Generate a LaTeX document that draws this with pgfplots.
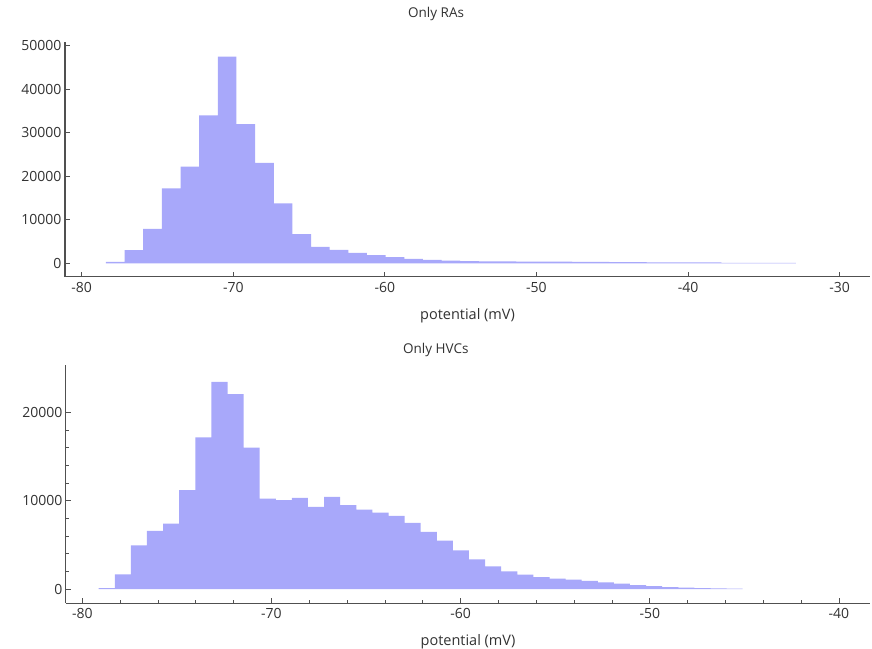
\documentclass[border=0pt]{standalone}
\usepackage{pgfplots}
\pgfplotsset{compat=1.18}
\usepackage{fontspec}
\setmainfont{Open Sans}
\definecolor{histfill}{RGB}{168,168,250}
\definecolor{axisgray}{RGB}{80,80,80}
\definecolor{textgray}{RGB}{50,50,50}

\pgfplotstableread{
x y
-78.40 300
-77.17 3000
-75.94 7900
-74.71 17200
-73.48 22200
-72.25 34000
-71.02 47500
-69.79 32000
-68.56 23100
-67.33 13800
-66.10 6700
-64.87 3800
-63.64 3100
-62.41 2400
-61.18 1900
-59.95 1400
-58.72 1000
-57.49 760
-56.26 600
-55.03 480
-53.80 450
-52.57 420
-51.34 400
-50.11 380
-48.88 360
-47.65 340
-46.42 320
-45.19 250
-43.96 240
-42.73 230
-41.50 220
-40.27 210
-39.04 200
-37.81 120
-36.58 100
-35.35 90
-34.12 80
-32.89 80
}\ras

\pgfplotstableread{
x y
-79.13 100
-78.28 1660
-77.43 4950
-76.58 6570
-75.73 7400
-74.88 11180
-74.02 17150
-73.17 23440
-72.32 22050
-71.47 16010
-70.62 10240
-69.77 10050
-68.92 10300
-68.07 9290
-67.22 10420
-66.37 9480
-65.51 8990
-64.66 8650
-63.81 8270
-62.96 7480
-62.11 6460
-61.26 5480
-60.41 4380
-59.56 3360
-58.71 2570
-57.86 2000
-57.00 1630
-56.15 1360
-55.30 1170
-54.45 1060
-53.60 910
-52.75 760
-51.90 610
-51.05 450
-50.20 340
-49.35 230
-48.49 150
-47.64 110
-46.79 80
-45.94 40
-45.09 40
}\hvcs

\pgfplotsset{mystyle/.style={
  scale only axis,
  axis lines=left,
  axis line style={-, axisgray, line width=1pt},
  tick align=inside,
  major tick length=5pt,
  minor tick length=3pt,
  tick style={axisgray, line width=0.8pt},
  /pgf/number format/assume math mode=true,
  scaled y ticks=false,
  yticklabel style={/pgf/number format/fixed, /pgf/number format/1000 sep={}},
  ticklabel style={font=\fontsize{14}{16}\selectfont, text=textgray},
  xticklabel style={yshift=-2pt},
  xlabel style={font=\fontsize{14.5}{16}\selectfont, text=textgray, at={(axis description cs:0.5,0)}, anchor=center, yshift=-39pt},
  title style={font=\fontsize{13.5}{15}\selectfont, text=textgray, anchor=center},
  xlabel={potential (mV)},
}}

\begin{document}
\begin{tikzpicture}
\path[use as bounding box] (0,0) rectangle (872pt,648pt);
\begin{axis}[mystyle,
  at={(65pt,371pt)}, anchor=south west,
  width=805pt, height=235pt,
  xmin=-81.1, xmax=-28.0, ymin=-3150, ymax=50870,
  xtick={-80,-70,-60,-50,-40,-30},
  ytick={0,10000,20000,30000,40000,50000},
  title={Only RAs}, title style={at={(axis description cs:0.461,1)}, yshift=22pt},
]
\addplot[const plot mark left, fill=histfill, draw=none] table[x=x,y=y] {\ras} \closedcycle;
\end{axis}
\begin{axis}[mystyle,
  at={(66pt,45pt)}, anchor=south west,
  width=804pt, height=238pt,
  xmin=-80.86, xmax=-38.36, ymin=-1580, ymax=25345,
  xtick={-80,-70,-60,-50,-40},
  ytick={0,10000,20000},
  minor x tick num=4, minor y tick num=4,
  title={Only HVCs}, title style={at={(axis description cs:0.460,1)}, yshift=9pt},
]
\addplot[const plot mark left, fill=histfill, draw=none] table[x=x,y=y] {\hvcs} \closedcycle;
\end{axis}
\end{tikzpicture}
\end{document}
